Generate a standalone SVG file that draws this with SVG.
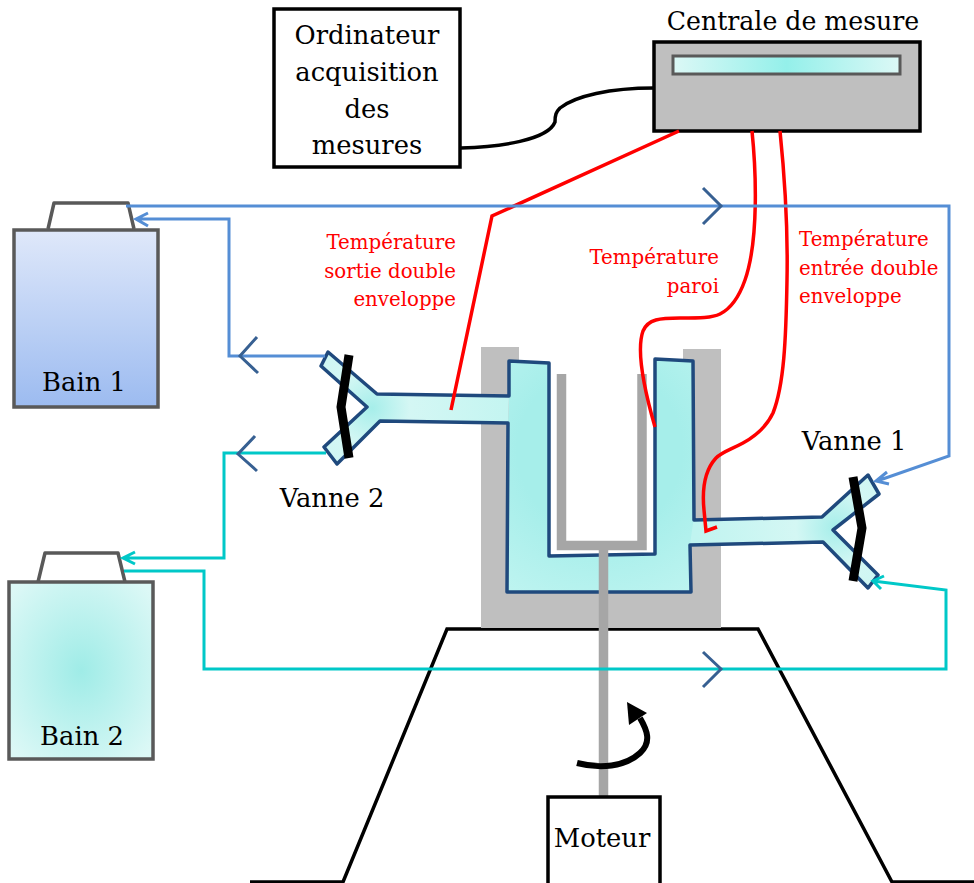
<svg xmlns="http://www.w3.org/2000/svg" width="974" height="883" viewBox="0 0 974 883">
<style>
text{font-family:"DejaVu Serif","Liberation Serif",serif;text-anchor:middle}
.lbl{font-size:25.800px;fill:#000}
.red{font-size:19.800px;fill:#f00}
.box{fill:#fff;stroke:#000;stroke-width:3.500}
.gr{fill:none;stroke:#595959;stroke-width:3.500;stroke-linejoin:round}
.blue{fill:none;stroke:#558ed5;stroke-width:3}
.teal{fill:none;stroke:#00c8c8;stroke-width:3}
.chev{fill:none;stroke:#376092;stroke-width:3}
.rd{fill:none;stroke:#f00;stroke-width:3.500}
.bar{fill:none;stroke:#000;stroke-width:9}
</style>
<defs>
<linearGradient id="g1" x1="0" y1="0" x2="0" y2="1"><stop offset="0" stop-color="#dfe8fa"/><stop offset="1" stop-color="#9cbbf0"/></linearGradient>
<radialGradient id="g2" cx="0.5" cy="0.5" r="0.65"><stop offset="0" stop-color="#9fece7"/><stop offset="1" stop-color="#dcf8f6"/></radialGradient>
<linearGradient id="g3" x1="0" y1="0" x2="1" y2="0"><stop offset="0" stop-color="#dcf8f6"/><stop offset="0.5" stop-color="#94f0ea"/><stop offset="1" stop-color="#dcf8f6"/></linearGradient>
<radialGradient id="g4" gradientUnits="userSpaceOnUse" cx="600" cy="450" r="165"><stop offset="0.5" stop-color="#a6eeea"/><stop offset="1" stop-color="#bdf4f0"/></radialGradient>
<radialGradient id="g5" gradientUnits="userSpaceOnUse" cx="372" cy="408" r="135"><stop offset="0" stop-color="#a6eeea"/><stop offset="0.28" stop-color="#d4f7f4"/><stop offset="1" stop-color="#c4f5f1"/></radialGradient>
<radialGradient id="g6" gradientUnits="userSpaceOnUse" cx="835" cy="528" r="140"><stop offset="0" stop-color="#a6eeea"/><stop offset="0.28" stop-color="#d4f7f4"/><stop offset="1" stop-color="#c0f4f0"/></radialGradient>
</defs>
<g id="support">
<path d="M250 882H343L447 629H758L892 882H974" fill="none" stroke="#000" stroke-width="3.500"/>
</g>
<g id="cuve">
<path d="M481 347H519V570H683V349H721V628H481Z" fill="#bfbfbf"/>
<path d="M509 396V361L549 363V556L655 554V359L693 361L694 520V545H690L691 592H507L508 423Z" fill="url(#g4)"/>
<path d="M328 352L377 394L509 396L508 423L380 421L337 464L324 447L367 407L321 366Z" fill="url(#g5)"/>
<path d="M693.500 520L822 517L868 475L879 494L833 530L878 575L868 588L823 542L690 545Z" fill="url(#g6)"/>
<path d="M328 352L377 394L509 396V361L549 363V556L655 554V359L693 361L694 520L822 517L868 475L879 494L833 530L878 575L868 588L823 542L690 545L691 592H507L508 423L380 421L337 464L324 447L367 407L321 366Z" fill="none" stroke="#1f497d" stroke-width="3.500" stroke-linejoin="round"/>
<path d="M561.500 374V545.500H642V374M603.500 550V797" fill="none" stroke="#a6a6a6" stroke-width="9.500"/>
</g>
<g id="vanne-2">
<path class="bar" d="M349 355L341 407L349 458"/>
<text class="lbl" x="332" y="507">Vanne 2</text>
</g>
<g id="vanne-1">
<path class="bar" d="M853 477L862 528L853 581"/>
<text class="lbl" x="854" y="450">Vanne 1</text>
</g>
<g id="bain-1">
<path class="gr" d="M48 229L54 203H128L134 229" fill="#fff"/>
<rect x="14" y="230" width="144" height="177" fill="url(#g1)" stroke="#595959" stroke-width="3.500"/>
<text class="lbl" x="84" y="391">Bain 1</text>
</g>
<g id="bain-2">
<path class="gr" d="M38 582L45 553H118L125 582" fill="#fff"/>
<rect x="9" y="582" width="144" height="177" fill="url(#g2)" stroke="#595959" stroke-width="3.500"/>
<text class="lbl" x="82" y="745">Bain 2</text>
</g>
<g id="ordinateur">
<rect class="box" x="274" y="9" width="186" height="158"/>
<text class="lbl"><tspan x="367" y="44">Ordinateur</tspan><tspan x="367" y="81">acquisition</tspan><tspan x="367" y="118">des</tspan><tspan x="367" y="154">mesures</tspan></text>
</g>
<g id="centrale">
<rect x="654" y="42" width="266" height="89" fill="#bfbfbf" stroke="#000" stroke-width="3.500"/>
<rect x="673" y="56" width="227" height="18" fill="url(#g3)" stroke="#595959" stroke-width="3"/>
<text class="lbl" style="font-size:25.200px" x="793" y="30">Centrale de mesure</text>
</g>
<g id="moteur">
<rect class="box" x="548" y="797" width="112" height="90"/>
<text class="lbl" x="602" y="847">Moteur</text>
<path d="M577 763C600 769 625 767 640 753C652 742 647 730 640 718" fill="none" stroke="#000" stroke-width="6"/>
<path d="M627 702L647 713L629 725Z" fill="#000"/>
</g>
<g id="connecteurs">
<path d="M461 148C500 147 548 140 555 122C555 115 556 112 560 108C575 96 610 88 654 88" fill="none" stroke="#000" stroke-width="3.500"/>
<path class="rd" d="M679 131L492 216L451 410"/>
<path class="rd" d="M752 131C756 170 759 240 745 280C738 300 730 309 720 314C712 318 700 318 680 318C660 318 648 319 643 331C638 345 640 375 655 427"/>
<path class="rd" d="M780 131C784 170 788 230 787 280C786 340 784 385 773 413C765 430 752 438 743 443C730 450 722 452 716 458C705 470 702 490 704 510L706 531L717 527"/>
<path class="blue" d="M126 206H949V456L877 481M887 472L876 481L889 484"/>
<path class="blue" d="M325 356H229V219H136M148 213L136 219L148 226"/>
<path class="teal" d="M326 453H224V558H123M135 552L123 558L135 564"/>
<path class="teal" d="M124 571H204V669H946V590L873 581M884 576L873 581L881 589"/>
<path class="chev" d="M257 337L240 356L258 373"/>
<path class="chev" d="M255 436L238 454L257 471"/>
<path class="chev" d="M703 188L721 206L703 224"/>
<path class="chev" d="M703 652L721 669L703 687"/>
</g>
<g id="etiquettes">
<text class="red" style="text-anchor:end"><tspan x="456" y="249">Température</tspan><tspan x="456" y="278">sortie double</tspan><tspan x="456" y="306">enveloppe</tspan></text>
<text class="red" style="text-anchor:end"><tspan x="719" y="264">Température</tspan><tspan x="719" y="293">paroi</tspan></text>
<text class="red" style="text-anchor:start"><tspan x="799" y="246">Température</tspan><tspan x="799" y="275">entrée double</tspan><tspan x="799" y="303">enveloppe</tspan></text>
</g>
</svg>
